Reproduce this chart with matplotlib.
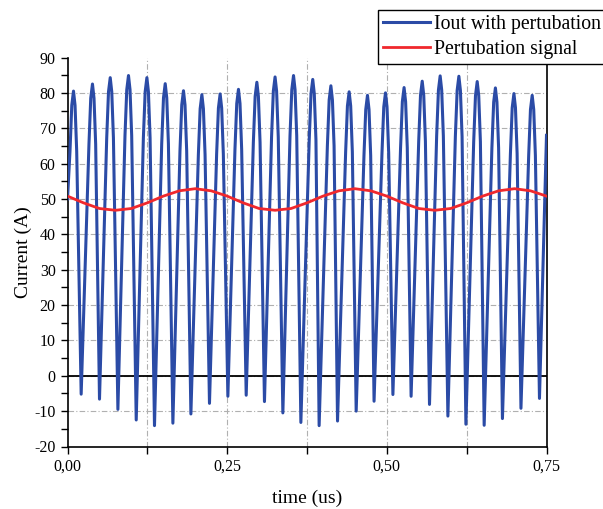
import matplotlib
matplotlib.use("Agg")
import matplotlib.pyplot as plt
import numpy as np
from matplotlib.ticker import MultipleLocator, FuncFormatter

plt.rcParams['font.family'] = ['Liberation Serif', 'DejaVu Serif']
plt.rcParams['axes.unicode_minus'] = False

# Iout with pertubation: peaks and troughs (time in us, current in A)
peak_t = [0.0094, 0.0391, 0.0669, 0.0955, 0.1243, 0.1530, 0.1816, 0.2104, 0.2390,
          0.2677, 0.2965, 0.3250, 0.3539, 0.3840, 0.4124, 0.4410, 0.4697, 0.4979,
          0.5270, 0.5554, 0.5835, 0.6128, 0.6415, 0.6700, 0.6990, 0.7276]
peak_v = [80.5, 82.5, 84.3, 84.9, 84.3, 82.6, 80.6, 79.5, 79.7,
          81.0, 83.0, 84.5, 84.9, 83.8, 82.0, 80.3, 79.3, 80.0,
          81.5, 83.3, 84.8, 84.7, 83.2, 81.4, 79.8, 79.3]
trough_t = [0.0214, 0.0501, 0.0789, 0.1076, 0.1362, 0.1650, 0.1932, 0.2223, 0.2511,
            0.2798, 0.3084, 0.3372, 0.3654, 0.3940, 0.4228, 0.4520, 0.4800, 0.5095,
            0.5380, 0.5668, 0.5956, 0.6238, 0.6524, 0.6810, 0.7100, 0.7390]
trough_v = [-5.2, -6.6, -9.5, -12.5, -14.1, -13.4, -10.8, -7.8, -5.8,
            -5.5, -7.3, -10.5, -13.2, -14.1, -12.8, -10.0, -7.2, -5.3,
            -5.8, -8.1, -11.4, -13.7, -14.0, -12.1, -9.2, -6.4]
start_pt = (0.0, 50.0)
end_pt = (0.75, 68.0)
# width of the rounded tops, measured on the picture:
# (drop below the peak in A, time before peak, time after peak)
arch = [(17.0, 0.0055, 0.0050), (4.0, 0.0027, 0.0024)]

# Pertubation signal, read every 0.025 us
pert_t = [0.000, 0.025, 0.050, 0.075, 0.100, 0.125, 0.150, 0.175, 0.200, 0.225,
          0.250, 0.275, 0.300, 0.325, 0.350, 0.375, 0.400, 0.425, 0.450, 0.475,
          0.500, 0.525, 0.550, 0.575, 0.600, 0.625, 0.650, 0.675, 0.700, 0.725, 0.750]
pert_v = [50.8, 48.9, 47.3, 46.8, 47.3, 48.9, 50.8, 52.3, 52.9, 52.3,
          50.8, 48.9, 47.3, 46.8, 47.3, 48.9, 50.8, 52.3, 52.9, 52.3,
          50.8, 48.9, 47.3, 46.8, 47.3, 48.9, 50.8, 52.3, 52.9, 52.3, 50.8]

# build the waveform path in time order
iout_t = [start_pt[0]]
iout_v = [start_pt[1]]
for pt, pv, tt, tv in zip(peak_t, peak_v, trough_t, trough_v):
    for drop, before, after in arch:
        if pt - before > iout_t[-1]:
            iout_t.append(pt - before)
            iout_v.append(pv - drop)
    iout_t.append(pt)
    iout_v.append(pv)
    for drop, before, after in arch[::-1]:
        iout_t.append(pt + after)
        iout_v.append(pv - drop)
    iout_t.append(tt)
    iout_v.append(tv)
iout_t.append(end_pt[0])
iout_v.append(end_pt[1])

fig = plt.figure(figsize=(6.03, 5.09), dpi=100)
ax = fig.add_axes([67.5/603, 1-446.5/509, 479/603, 389/509])

ax.plot(iout_t, iout_v, color='#2b4ba6', lw=2.2, solid_joinstyle='round',
        label='Iout with pertubation', zorder=3)
ax.plot(pert_t, pert_v, color='#f0282d', lw=2.0, label='Pertubation signal', zorder=4)
ax.axhline(0, color='black', lw=1.3, zorder=2)

ax.set_xlim(0, 0.75)
ax.set_ylim(-20, 90)
ax.xaxis.set_major_locator(MultipleLocator(0.25))
ax.xaxis.set_minor_locator(MultipleLocator(0.125))
ax.yaxis.set_major_locator(MultipleLocator(10))
ax.yaxis.set_minor_locator(MultipleLocator(5))
ax.xaxis.set_major_formatter(FuncFormatter(lambda v, p: f"{v:.2f}".replace('.', ',')))
ax.tick_params(which='both', direction='out', length=5, width=1, labelsize=11.5)

# dash-dot grid
gs = dict(color='#b0b0b0', lw=0.8, linestyle=(0, (5, 2, 1, 2)), zorder=1)
for x in [0.125, 0.25, 0.375, 0.5, 0.625]:
    ax.axvline(x, **gs)
for y in range(-10, 90, 10):
    ax.axhline(y, **gs)

ax.spines['top'].set_visible(False)
for s in ['left', 'bottom', 'right']:
    ax.spines[s].set_linewidth(1.2)

ax.set_xlabel('time (us)', fontsize=14, labelpad=11)
ax.set_ylabel('Current (A)', fontsize=14, labelpad=2)

leg = fig.legend(loc='upper left', bbox_to_anchor=(378/603, 1-10/509),
                 bbox_transform=fig.transFigure, fontsize=14.2, frameon=True,
                 fancybox=False, framealpha=1, edgecolor='black', borderpad=0.25,
                 handlelength=2.4, handletextpad=0.2, labelspacing=0.3,
                 borderaxespad=0)
leg.get_frame().set_linewidth(1.0)

fig.savefig('out.png', dpi=100)
